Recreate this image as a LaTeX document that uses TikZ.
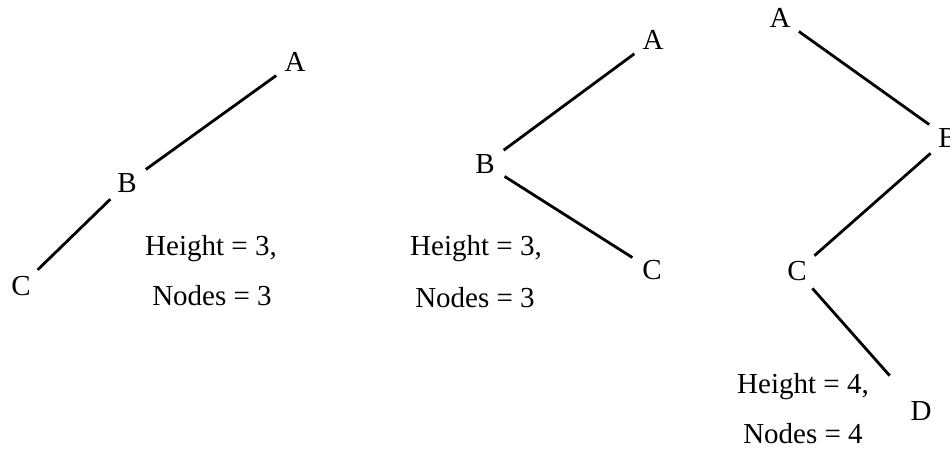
\documentclass[tikz,border=0pt]{standalone}
\usepackage{fontspec}
\setmainfont{Liberation Serif}
\begin{document}
\begin{tikzpicture}[x=1pt,y=-1pt]
% Define styles
\tikzset{
    vertex/.style={circle, inner sep=0pt, minimum size=46pt, font=\fontsize{29}{34}\selectfont},
    info/.style={anchor=base, inner sep=0pt, font=\fontsize{29}{34}\selectfont},
    edge/.style={line width=2.8pt}
}

% Page size
\useasboundingbox (0,0) rectangle (950,449);

% First tree
\node[vertex] (a1) at (295,62) {A};
\node[vertex] (b1) at (127,183) {B};
\node[vertex] (c1) at (21,286) {C};
\draw[edge] (a1) -- (b1);
\draw[edge] (b1) -- (c1);
\node[info] (h1) at (211,255) {Height = 3,};
\node[info] (n1) at (212,305) {Nodes = 3};

% Second tree
\node[vertex] (a2) at (653,40) {A};
\node[vertex] (b2) at (485,164) {B};
\node[vertex] (c2) at (652,270) {C};
\draw[edge] (a2) -- (b2);
\draw[edge] (b2) -- (c2);
\node[info] (h2) at (476,255) {Height = 3,};
\node[info] (n2) at (475,307) {Nodes = 3};

% Third tree
\node[vertex] (a3) at (780,18) {A};
\node[vertex] (b3) at (948,138) {B};
\node[vertex] (c3) at (797,271) {C};
\node[vertex] (d3) at (921,411) {D};
\draw[edge] (a3) -- (b3);
\draw[edge] (b3) -- (c3);
\draw[edge, shorten >=24pt] (c3) -- (d3);
\node[info] (h3) at (803,393) {Height = 4,};
\node[info] (n3) at (803,443) {Nodes = 4};

\end{tikzpicture}
\end{document}
